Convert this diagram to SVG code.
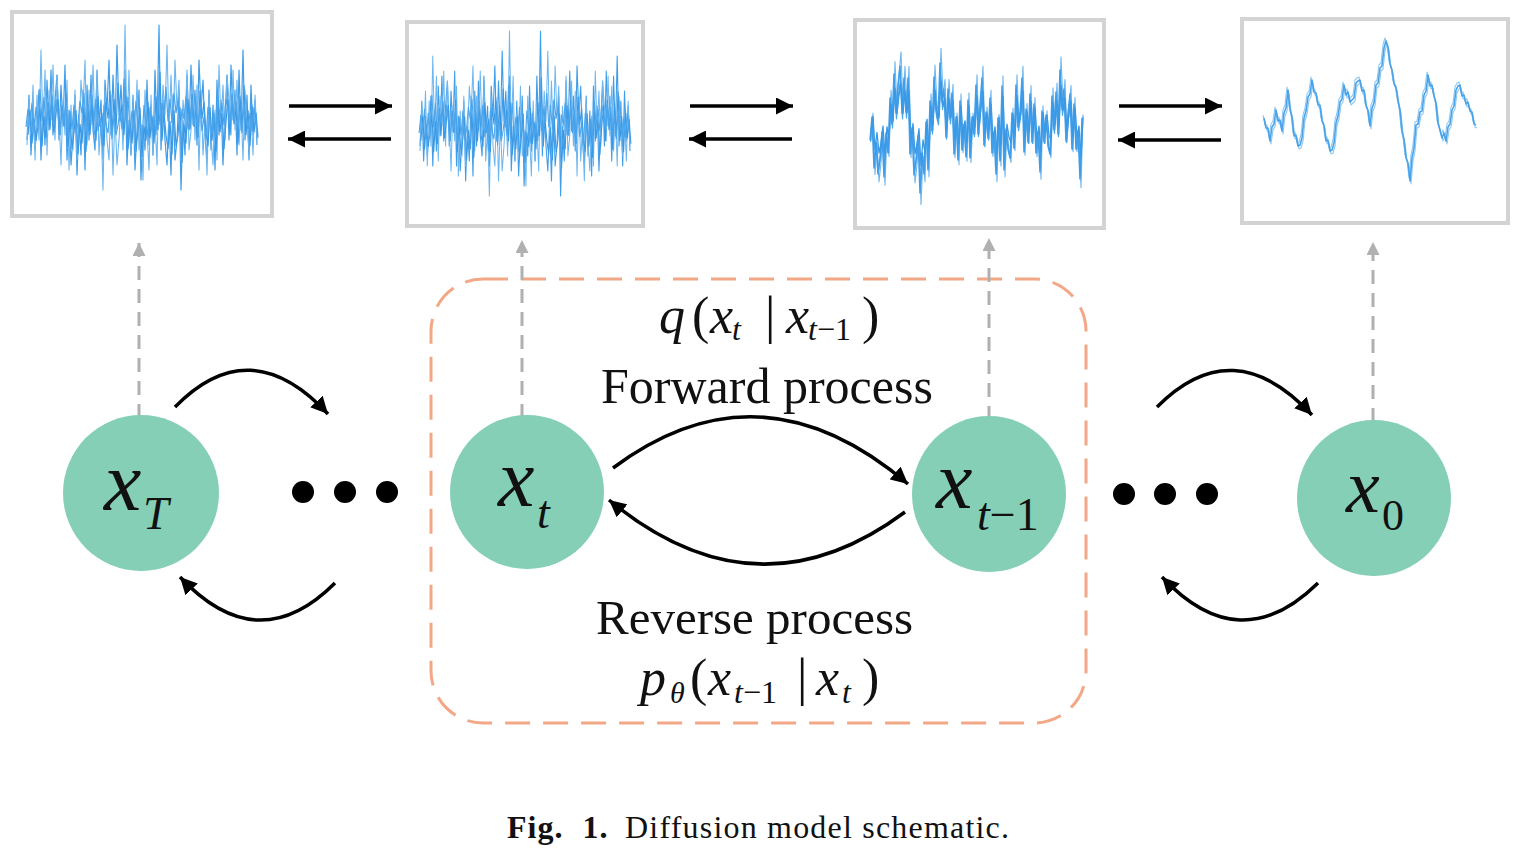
<svg xmlns="http://www.w3.org/2000/svg" width="1527" height="852" viewBox="0 0 1527 852">
<style>
.panel{fill:#fff;stroke:#d3d3d3;stroke-width:4}
.node circle,.node ellipse{fill:#84cfb6}
.math{font-family:"Liberation Serif","Times New Roman",serif;font-style:italic;fill:#111}
.up{font-style:normal}
.lbl{font-family:"Liberation Serif","Times New Roman",serif;fill:#111}
.arr{fill:none;stroke:#000;stroke-width:3.5}
.garr{fill:none;stroke:#b0b0b0;stroke-width:3;stroke-dasharray:14 9}
.dot{fill:#000}
.sig{fill:none;stroke-linejoin:round}
</style>
<defs>
<marker id="ah" viewBox="0 0 10 10" refX="10" refY="5" markerWidth="17" markerHeight="17" markerUnits="userSpaceOnUse" orient="auto"><path d="M0,0 L10,5 L0,10 z" fill="#000"/></marker>
<marker id="gah" viewBox="0 0 10 10" refX="10" refY="5" markerWidth="13" markerHeight="13" markerUnits="userSpaceOnUse" orient="auto"><path d="M0,0 L10,5 L0,10 z" fill="#b0b0b0"/></marker>
<polyline id="noise" class="sig" points="0,20 2,-25 4,35 6,-10 8,30 10,5 12,-30 14,40 16,-15 18,25 20,-40 22,10 24,-50 26,15 28,-20 30,-45 32,20 34,-35 36,5 38,-55 40,40 42,-10 44,45 46,15 48,-25 50,55 52,0 54,35 56,-30 58,50 60,-35 62,20 64,-45 66,10 68,30 70,-50 72,5 74,-20 76,40 78,-40 80,-10 82,-60 84,15 86,-45 88,10 90,-75 92,-5 94,-35 96,20 98,-50 100,45 102,0 104,35 106,-25 108,50 110,10 112,-30 114,60 116,5 118,30 120,-40 122,25 124,-15 126,35 128,-50 130,10 132,-95 134,30 136,-20 138,20 140,45 142,-5 144,55 146,-25 148,40 150,20 152,-30 154,70 156,0 158,35 160,-45 162,10 164,-55 166,5 168,-30 170,25 172,-60 174,-10 176,-40 178,15 180,40 182,-30 184,30 186,-15 188,50 190,-40 192,15 194,-20 196,45 198,-5 200,-45 202,20 204,-55 206,0 208,-30 210,35 212,-50 214,10 216,-70 218,20 220,-25 222,40 224,-35 226,15 228,-20 230,25"/>
<g id="noiseSet">
<use href="#noise" stroke="#3f9de9" stroke-width="1.2"/>
<use href="#noise" stroke="#6db6ef" stroke-width="1.1" transform="translate(230,0) scale(-1,1)"/>
<use href="#noise" stroke="#3a99e6" stroke-width="1.2" transform="translate(1,4) scale(1,0.55)"/>
<use href="#noise" stroke="#4aa5ec" stroke-width="1.2" transform="translate(229,-3) scale(-1,0.4)"/>
</g>
<polyline id="mid" class="sig" points="0,14 2,-9 4,42 6,16 8,48 10,32 12,6 14,51 16,7 18,27 20,-28 22,-2 24,-52 26,-13 28,-41 30,-60 32,-13 34,-48 36,-14 38,-48 40,28 42,2 44,49 46,34 48,10 50,67 52,27 54,48 56,-4 58,44 60,-25 62,5 64,-49 66,-16 68,-6 70,-63 72,-24 74,-37 76,11 78,-37 80,-7 82,-33 84,28 86,-9 88,34 90,-25 92,24 94,-2 96,31 98,-26 100,32 102,-9 104,8 106,-41 108,8 110,-21 112,-48 114,19 116,-14 118,12 120,-28 122,27 124,7 126,48 128,-8 130,35 132,-40 134,44 136,3 138,23 140,32 142,-13 144,22 146,-41 148,1 150,-14 152,-48 154,26 156,-17 158,16 160,-32 162,16 164,-22 166,27 168,6 170,46 172,-15 174,16 176,-11 178,20 180,28 182,-30 184,4 186,-34 188,8 190,-56 192,-17 194,-37 196,15 198,-13 200,-32 202,23 204,-22 206,23 208,6 210,53 212,-8"/>
<polyline id="clean" class="sig" points="0,0 2,10 4,10 6,23 8,9 10,6 12,-8 14,3 16,2 18,13 20,-5 22,-10 24,-28 26,-9 28,-1 30,18 32,17 34,28 36,27 38,20 40,0 42,-7 44,-21 46,-24 48,-38 50,-26 52,-25 54,-13 56,-13 58,3 60,7 62,23 64,22 66,33 68,32 70,25 72,5 74,-2 76,-16 78,-19 80,-33 82,-23 84,-26 86,-16 88,-18 90,-20 92,-35 94,-37 96,-38 98,-27 100,-28 102,-12 104,-8 106,8 108,-10 110,-15 112,-33 114,-35 116,-50 118,-52 120,-70 122,-77 124,-71 126,-54 128,-48 130,-34 132,-31 134,-17 136,-8 138,13 140,22 142,40 144,45 146,63 148,40 150,30 152,7 154,6 156,-6 158,-7 160,-23 162,-27 164,-43 166,-32 168,-33 170,-22 172,-15 174,5 176,12 178,20 180,15 182,23 184,9 186,6 188,-8 190,-12 192,-28 194,-32 196,-33 198,-22 200,-23 202,-14 204,-16 206,-7 208,-6 210,6 212,7"/>
</defs>
<rect width="1527" height="852" fill="#fff"/>

<g id="panel-xT">
<rect class="panel" x="12" y="12" width="260" height="204"/>
<use href="#noiseSet" transform="translate(27,120)"/>
</g>
<g id="panel-xt">
<rect class="panel" x="407" y="22" width="236" height="204"/>
<use href="#noiseSet" transform="translate(420,126) scale(0.913,1)"/>
</g>
<g id="panel-xt1">
<rect class="panel" x="855" y="20" width="249" height="208"/>
<use href="#mid" stroke="#6db6ef" stroke-width="1.1" transform="translate(871,124) scale(1,1.2)"/>
<use href="#mid" stroke="#4aa5ec" stroke-width="1.2" transform="translate(870.5,130) scale(1,0.85)"/>
<use href="#mid" stroke="#3f9de9" stroke-width="1.5" transform="translate(870,126)"/>
<use href="#mid" stroke="#3a99e6" stroke-width="1.3" transform="translate(871,122) scale(1,0.65)"/>
</g>
<g id="panel-x0">
<rect class="panel" x="1242" y="19" width="266" height="204"/>
<use href="#clean" stroke="#8cc8f2" stroke-width="1.1" transform="translate(1265,121)"/>
<use href="#clean" stroke="#8cc8f2" stroke-width="1.1" transform="translate(1263,115)"/>
<use href="#clean" stroke="#4aa3ea" stroke-width="1.6" transform="translate(1264,118)"/>
</g>

<g id="frame">
<rect x="431" y="279" width="655" height="444" rx="52" fill="none" stroke="#f2a887" stroke-width="3" stroke-dasharray="25 13"/>
</g>

<g id="connectors">
<line class="arr" x1="289" y1="106" x2="392" y2="106" marker-end="url(#ah)"/>
<line class="arr" x1="391" y1="139" x2="288" y2="139" marker-end="url(#ah)"/>
<line class="arr" x1="690" y1="106" x2="793" y2="106" marker-end="url(#ah)"/>
<line class="arr" x1="792" y1="139" x2="689" y2="139" marker-end="url(#ah)"/>
<line class="arr" x1="1119" y1="106" x2="1222" y2="106" marker-end="url(#ah)"/>
<line class="arr" x1="1221" y1="140" x2="1118" y2="140" marker-end="url(#ah)"/>

<line class="garr" x1="139" y1="418" x2="139" y2="243" marker-end="url(#gah)"/>
<line class="garr" x1="522" y1="418" x2="522" y2="240" marker-end="url(#gah)"/>
<line class="garr" x1="989" y1="420" x2="989" y2="238" marker-end="url(#gah)"/>
<line class="garr" x1="1373" y1="422" x2="1373" y2="242" marker-end="url(#gah)"/>

<path class="arr" d="M175,407 Q250,330 328,414" marker-end="url(#ah)"/>
<path class="arr" d="M335,583 Q258,660 180,577" marker-end="url(#ah)"/>
<path class="arr" d="M1157,407 Q1233,330 1312,415" marker-end="url(#ah)"/>
<path class="arr" d="M1318,583 Q1240,660 1162,577" marker-end="url(#ah)"/>
<path class="arr" d="M613,468 Q760,358 908,484" marker-end="url(#ah)"/>
<path class="arr" d="M905,512 Q757,622 609,500" marker-end="url(#ah)"/>
</g>

<g id="node-xT" class="node">
<circle cx="141" cy="493" r="78"/>
<text class="math" x="104" y="510" font-size="84">x</text>
<text class="math" x="143" y="529" font-size="46">T</text>
</g>
<g id="node-xt" class="node">
<circle cx="527" cy="492" r="77"/>
<text class="math" x="498" y="506" font-size="82">x</text>
<text class="math" x="537" y="528" font-size="46">t</text>
</g>
<g id="node-xt1" class="node">
<ellipse cx="989" cy="494" rx="77" ry="78"/>
<text class="math" x="936" y="508" font-size="82">x</text>
<text class="math" x="977" y="530" font-size="46">t<tspan class="up">−1</tspan></text>
</g>
<g id="node-x0" class="node">
<ellipse cx="1374" cy="498" rx="77" ry="78"/>
<text class="math" x="1346" y="512" font-size="76">x</text>
<text class="math up" x="1382" y="530" font-size="44">0</text>
</g>

<g id="dots">
<circle class="dot" cx="303" cy="492" r="11"/>
<circle class="dot" cx="345" cy="492" r="11"/>
<circle class="dot" cx="387" cy="492" r="11"/>
<circle class="dot" cx="1124" cy="494" r="11"/>
<circle class="dot" cx="1165" cy="494" r="11"/>
<circle class="dot" cx="1207" cy="494" r="11"/>
</g>

<g id="labels">
<text class="math" font-size="52" y="333"><tspan x="659">q</tspan><tspan class="up" x="692">(</tspan><tspan x="710">x</tspan><tspan x="732" y="340" font-size="32">t</tspan><tspan class="up" x="765" y="333">|</tspan><tspan x="786">x</tspan><tspan x="808" y="340" font-size="32">t<tspan class="up">−1</tspan></tspan><tspan class="up" x="862" y="333">)</tspan></text>
<text class="lbl" x="601" y="403" font-size="50">Forward process</text>
<text class="lbl" x="596" y="634" font-size="49">Reverse process</text>
<text class="math" font-size="52" y="695"><tspan x="640">p</tspan><tspan x="670" y="703" font-size="30">θ</tspan><tspan class="up" x="690" y="695">(</tspan><tspan x="708">x</tspan><tspan x="734" y="703" font-size="32">t<tspan class="up">−1</tspan></tspan><tspan class="up" x="797" y="695">|</tspan><tspan x="816">x</tspan><tspan x="842" y="703" font-size="32">t</tspan><tspan class="up" x="862" y="695">)</tspan></text>
</g>

<g id="caption">
<text class="lbl" x="507" y="838" font-size="32" font-weight="bold" letter-spacing="1" word-spacing="10">Fig. 1.</text>
<text class="lbl" x="625" y="838" font-size="32" letter-spacing="1.2">Diffusion model schematic.</text>
</g>
</svg>
